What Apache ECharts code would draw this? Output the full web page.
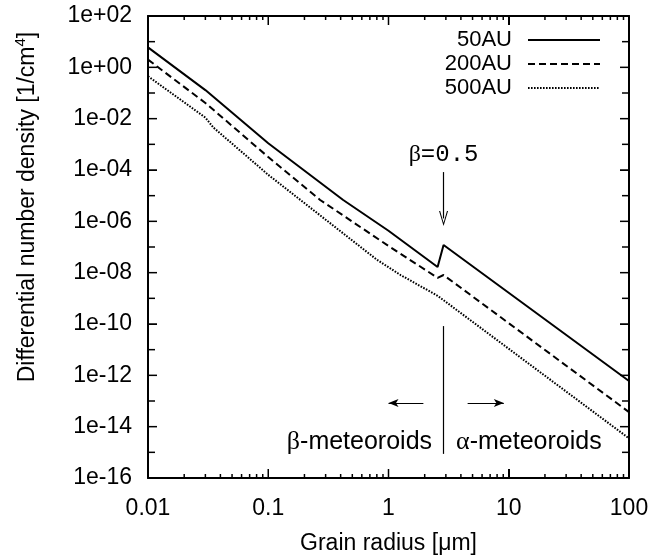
<!DOCTYPE html>
<html><head><meta charset="utf-8">
<script src="https://cdn.jsdelivr.net/npm/echarts@6/dist/echarts.min.js"></script>
<style>html,body{margin:0;padding:0;background:#fff}#c{width:652px;height:560px}</style>
</head><body><div id="c"></div>
<script>
// ---- data ----
const seriesNames = ['50AU', '200AU', '500AU'];
const radius50   = [0.01, 0.03, 0.1, 0.42, 1.0, 2.56, 2.87, 100];
const density50  = [6.0, 0.13, 1.1e-3, 6.8e-6, 4.3e-7, 1.66e-8, 1.2e-7, 6.0e-13];
const radius200  = [0.01, 0.03, 0.1, 0.27, 1.0, 2.56, 2.87, 100];
const density200 = [2.0, 0.041, 3.2e-4, 6.8e-6, 1.1e-7, 6.3e-9, 8.1e-9, 3.7e-14];
const radius500  = [0.01, 0.03, 0.035, 0.1, 0.8, 1.26, 2.56, 100];
const density500 = [0.45, 0.011, 4.5e-3, 6.5e-5, 3.2e-8, 8.1e-9, 1.26e-9, 3.5e-15];

const xMajorTicks = [0.1, 1, 10];
const xMinorTicks = [0.02,0.03,0.04,0.05,0.06,0.07,0.08,0.09,
                     0.2,0.3,0.4,0.5,0.6,0.7,0.8,0.9,
                     2,3,4,5,6,7,8,9, 20,30,40,50,60,70,80,90];
const yMajorTicks = [1e-14,1e-12,1e-10,1e-8,1e-6,1e-4,1e-2,1];
const yMinorTicks = [1e-15,1e-13,1e-11,1e-9,1e-7,1e-5,1e-3,1e-1,10];
const xRange = [0.01, 100];
const yRange = [1e-16, 100];

// annotation anchors (data coordinates)
const betaRadius = 2.87;
const betaArrow  = [[betaRadius, 8.3e-5], [betaRadius, 1.3e-6]];
const divider    = [[betaRadius, 8.3e-11], [betaRadius, 8.7e-16]];
const leftArrow  = [[1.95, 8.3e-14], [1.0, 8.3e-14]];
const rightArrow = [[4.55, 8.3e-14], [9.1, 8.3e-14]];
const betaLabelPos   = [betaRadius, 3.9e-4];
const regionLabelPos = [betaRadius, 2.5e-15];

const black = '#000';
const font = '"Liberation Sans", Arial, Helvetica, sans-serif';

function pairs(xs, ys) { return xs.map((x, i) => [x, ys[i]]); }
function fmtX(v) { const e = Math.round(Math.log10(v)); return e < 0 ? v.toFixed(-e) : String(Math.round(v)); }
function fmtY(v) { const e = Math.round(Math.log10(v)); return '1e' + (e >= 0 ? '+' : '-') + String(Math.abs(e)).padStart(2, '0'); }

const frameLine = {show: true, lineStyle: {color: black, width: 2}};
const tickOpt = {show: true, inside: true, length: 9};

const xAxes = [
  {type: 'log', min: xRange[0], max: xRange[1], interval: 1, position: 'bottom',
    axisLine: frameLine, axisTick: tickOpt, splitLine: {show: false},
    axisLabel: {formatter: fmtX, fontSize: 23, fontFamily: font, color: black, margin: 19},
    name: 'Grain radius [μm]', nameLocation: 'middle', nameGap: 54,
    nameTextStyle: {fontSize: 23, fontFamily: font, color: black}},
  {type: 'log', min: xRange[0], max: xRange[1], interval: 1, position: 'top',
    axisLine: frameLine, axisTick: tickOpt, splitLine: {show: false}, axisLabel: {show: false}}
];
const yAxes = [
  {type: 'log', min: yRange[0], max: yRange[1], interval: 2, position: 'left',
    axisLine: frameLine, axisTick: tickOpt, splitLine: {show: false},
    axisLabel: {formatter: fmtY, fontSize: 23, fontFamily: font, color: black, margin: 16},
    name: '{a|Differential number density [1/cm}{s|4}{a|]}', nameLocation: 'middle', nameGap: 105,
    nameTextStyle: {padding: [0, 0, 0, 80], rich: {
      a: {fontSize: 23, fontFamily: font, color: black, lineHeight: 30},
      s: {fontSize: 15, fontFamily: font, color: black, lineHeight: 15, verticalAlign: 'top'}}}},
  {type: 'log', min: yRange[0], max: yRange[1], interval: 2, position: 'right',
    axisLine: frameLine, axisTick: tickOpt, splitLine: {show: false}, axisLabel: {show: false}}
];

// tick segments in data coordinates, slightly inset from the frame
const inset = 1.0005;
const pxPerDecadeX = 120, pxPerDecadeY = 25.67;
function spanX(len) { return Math.pow(10, len / pxPerDecadeX); }
function spanY(len) { return Math.pow(10, len / pxPerDecadeY); }
const tickSegments = [];
function addXTicks(values, len) {
  values.forEach(v => {
    tickSegments.push([[v, yRange[0] * inset], [v, yRange[0] * spanY(len)]]);
    tickSegments.push([[v, yRange[1] / inset], [v, yRange[1] / spanY(len)]]);
  });
}
function addYTicks(values, len) {
  values.forEach(v => {
    tickSegments.push([[xRange[0] * inset, v], [xRange[0] * spanX(len), v]]);
    tickSegments.push([[xRange[1] / inset, v], [xRange[1] / spanX(len), v]]);
  });
}
addXTicks(xMajorTicks, 9);
addXTicks(xMinorTicks, 4);
addYTicks(yMajorTicks, 9);
addYTicks(yMinorTicks, 7);

function tickSeries(seg) {
  return {
    type: 'line', data: seg, symbol: 'none', showSymbol: false, silent: true,
    clip: false, zlevel: 1, z: 10, legendHoverLink: false,
    lineStyle: {color: black, width: 1.5, type: 'solid'}, itemStyle: {color: black}
  };
}

const chevron = 'path://M4.5,0 L9,15 L7.9,15 L4.5,3.2 L1.1,15 L0,15 Z';

function lineSeries(name, data, lineType, extra) {
  return Object.assign({
    name: name, type: 'line', data: data,
    symbol: 'none', showSymbol: false, smooth: false,
    lineStyle: {color: black, width: 2, type: lineType}, itemStyle: {color: black}
  }, extra || {});
}

const option = {
  animation: false,
  backgroundColor: '#fff',
  grid: {left: 148, right: 23, top: 16, bottom: 82},
  xAxis: xAxes,
  yAxis: yAxes,
  legend: {
    data: seriesNames, orient: 'vertical', align: 'right', right: 46, top: 23,
    itemWidth: 72, itemHeight: 14, itemGap: 0, selectedMode: false,
    itemStyle: {opacity: 0},
    textStyle: {fontSize: 22, fontFamily: font, color: black, lineHeight: 24, padding: [0, 11, 0, 0]}
  },
  series: [
    lineSeries(seriesNames[0], pairs(radius50, density50), 'solid', {
      markLine: {
        silent: true, animation: false, symbol: ['none', 'none'], label: {show: false},
        emphasis: {disabled: true},
        lineStyle: {color: black, width: 1.2, type: 'solid'},
        data: [
          [{coord: betaArrow[0]}, {coord: betaArrow[1], symbol: chevron, symbolSize: [9, 15]}],
          [{coord: divider[0]}, {coord: divider[1]}],
          [{coord: leftArrow[0]}, {coord: leftArrow[1], symbol: 'arrow', symbolSize: [6, 10]}],
          [{coord: rightArrow[0]}, {coord: rightArrow[1], symbol: 'arrow', symbolSize: [6, 10]}]
        ]
      },
      markPoint: {
        silent: true, animation: false, symbol: 'circle', symbolSize: 1,
        itemStyle: {color: 'rgba(0,0,0,0)'},
        label: {show: true, color: black},
        data: [
          {coord: betaLabelPos, label: {position: 'inside', formatter: '{g|β}{m|=0.5}',
            rich: {g: {fontFamily: '"Liberation Serif", serif', fontSize: 24, color: black},
                   m: {fontFamily: '"Liberation Mono", monospace', fontSize: 24, color: black}}}},
          {coord: regionLabelPos, label: {position: 'left', distance: 11, formatter: '{g|β}{t|-meteoroids}',
            rich: {g: {fontFamily: '"Liberation Serif", serif', fontSize: 26, color: black},
                   t: {fontFamily: font, fontSize: 25, color: black}}}},
          {coord: regionLabelPos, label: {position: 'right', distance: 12, formatter: '{g|α}{t|-meteoroids}',
            rich: {g: {fontFamily: '"Liberation Serif", serif', fontSize: 26, color: black},
                   t: {fontFamily: font, fontSize: 25, color: black}}}}
        ]
      }
    }),
    lineSeries(seriesNames[1], pairs(radius200, density200), [7, 4]),
    lineSeries(seriesNames[2], pairs(radius500, density500), [1.6, 1.4])
  ].concat(tickSegments.map(tickSeries))
};

const chart = echarts.init(document.getElementById('c'), null, {renderer: 'canvas'});
chart.setOption(option);
</script>
</body></html>
